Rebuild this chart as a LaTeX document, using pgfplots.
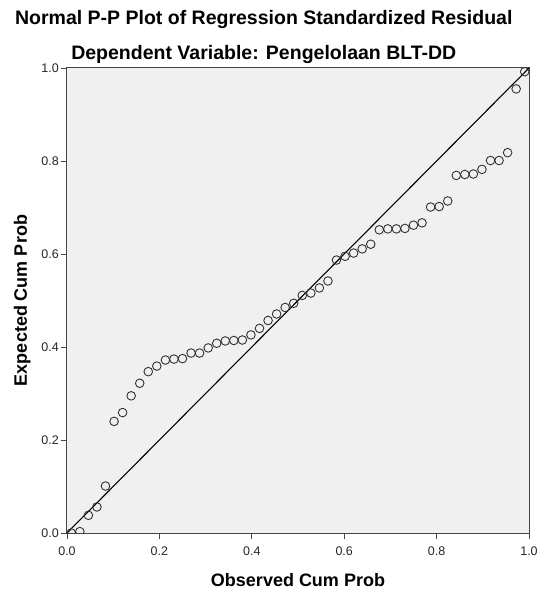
\documentclass[border=0pt]{standalone}
\usepackage{pgfplots}
\pgfplotsset{compat=1.18}
\usepackage{fontspec}
\setmainfont{Liberation Sans}

\definecolor{plotbg}{RGB}{240,240,240}
\definecolor{frame}{RGB}{70,70,70}
\definecolor{circ}{RGB}{50,50,50}

\begin{document}
\begin{tikzpicture}
\path[use as bounding box] (-67pt,-58pt) rectangle (475pt,533pt);
\begin{axis}[
    width=462pt, height=465pt, scale only axis,
    xmin=0, xmax=1, ymin=0, ymax=1,
    xtick={0,0.2,0.4,0.6,0.8,1},
    ytick={0,0.2,0.4,0.6,0.8,1},
    tick align=outside, tick pos=left,
    major tick length=6pt,
    axis background/.style={fill=plotbg},
    axis line style={draw=frame, line width=1pt},
    tick style={draw=frame, line width=0.8pt},
    /pgf/number format/.cd, fixed, fixed zerofill, precision=1, assume math mode=true,
    /pgfplots/.cd,
    ticklabel style={font=\fontsize{12.5}{12.5}\selectfont, text=black!85},
    xticklabel style={inner sep=0pt, yshift=-7.5pt},
    yticklabel style={inner sep=2pt},
    xlabel={Observed Cum Prob},
    ylabel={Expected Cum Prob},
    label style={font=\bfseries\fontsize{18}{18}\selectfont},
    xlabel style={at={(axis description cs:0.5,-0.114)}, anchor=base},
    ylabel style={at={(axis description cs:-0.0866,0.5)}, anchor=base},
    clip mode=individual, clip marker paths=true,
]
\addplot[black, line width=1.1pt, no marks] coordinates {(0,0) (1,1)};
\addplot[only marks, mark=o, mark size=4.3pt, mark options={draw=circ, line width=0.9pt}] coordinates {
(0.0093,0.000) (0.0278,0.003) (0.0463,0.038) (0.0648,0.056) (0.0833,0.101)
(0.1019,0.240) (0.1204,0.259) (0.1389,0.295) (0.1574,0.322) (0.1759,0.347)
(0.1944,0.359) (0.2130,0.372) (0.2315,0.374) (0.2500,0.375) (0.2685,0.387)
(0.2870,0.387) (0.3056,0.398) (0.3241,0.408) (0.3426,0.413) (0.3611,0.414)
(0.3796,0.415) (0.3981,0.426) (0.4167,0.440) (0.4352,0.457) (0.4537,0.471)
(0.4722,0.485) (0.4907,0.494) (0.5093,0.511) (0.5278,0.516) (0.5463,0.527)
(0.5648,0.542) (0.5833,0.587) (0.6019,0.595) (0.6204,0.602) (0.6389,0.611)
(0.6574,0.621) (0.6759,0.652) (0.6944,0.654) (0.7130,0.654) (0.7315,0.655)
(0.7500,0.662) (0.7685,0.667) (0.7870,0.701) (0.8056,0.702) (0.8241,0.714)
(0.8426,0.769) (0.8611,0.771) (0.8796,0.772) (0.8981,0.782) (0.9167,0.801)
(0.9352,0.801) (0.9537,0.818) (0.9722,0.955) (0.9907,0.992)
};
\node[anchor=base, font=\bfseries\fontsize{19.5}{19.5}\selectfont] at (axis description cs:0.426,1.0925) {Normal P-P Plot of Regression Standardized Residual};
\node[anchor=base, font=\bfseries\fontsize{19.5}{19.5}\selectfont] at (axis description cs:0.426,1.0172) {Dependent Variable: Pengelolaan BLT-DD};
\end{axis}
\end{tikzpicture}
\end{document}
